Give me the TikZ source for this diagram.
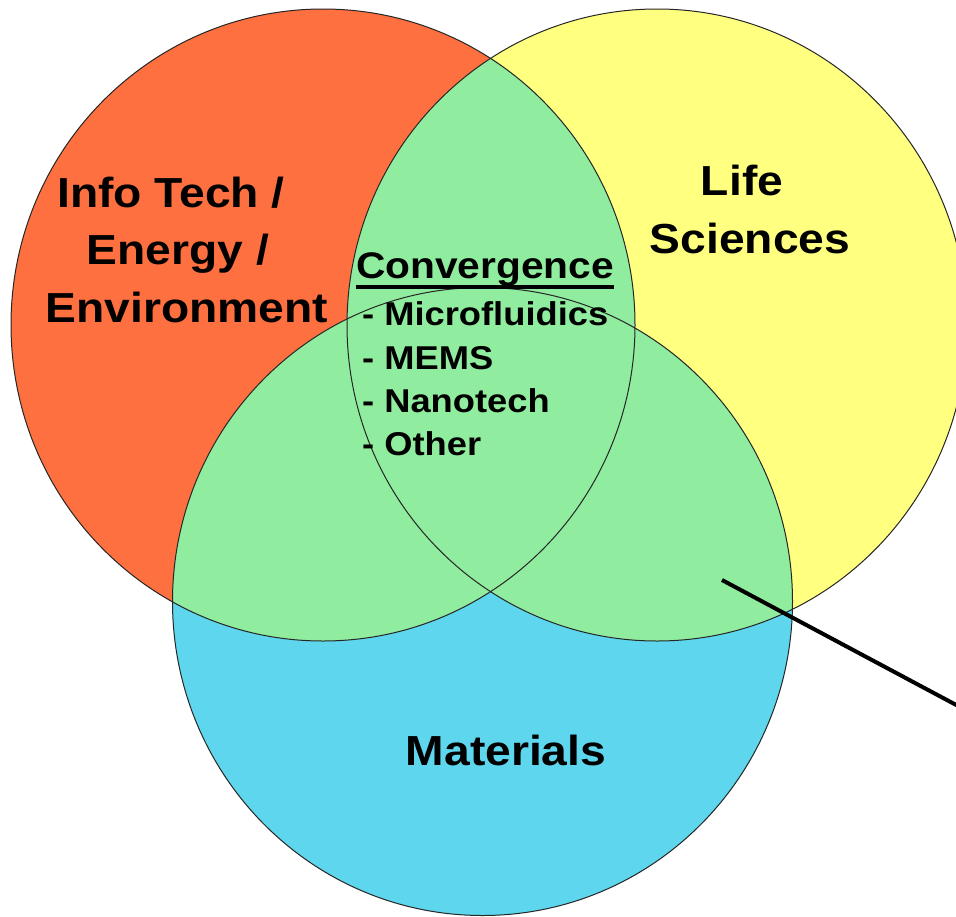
\documentclass[tikz,border=0pt]{standalone}
\usepackage{fontspec}
\setmainfont{Liberation Sans}[FakeStretch=1.1]
\definecolor{cRed}{RGB}{255,112,64}
\definecolor{cYel}{RGB}{255,255,128}
\definecolor{cGrn}{RGB}{144,236,158}
\definecolor{cBlu}{RGB}{94,214,238}
\tikzset{
  ring/.style={draw=black!85,line width=1pt},
  bigtxt/.style={font=\bfseries\fontsize{42}{50}\selectfont,anchor=base,inner sep=0pt},
  headtxt/.style={font=\bfseries\fontsize{37}{44}\selectfont,anchor=base,inner sep=0pt},
  itemtxt/.style={font=\bfseries\fontsize{33}{40}\selectfont,anchor=base west,inner sep=0pt},
  pointer/.style={line width=4pt,line cap=butt}
}
\begin{document}
\begin{tikzpicture}[x=1pt,y=-1pt]
\useasboundingbox (0,0) rectangle (956,916);
\clip (0,0) rectangle (956,916);
\coordinate (cR) at (323,325);
\coordinate (cY) at (657,325);
\coordinate (cB) at (482.5,601.5);
\def\shR{(cR) ellipse[x radius=312,y radius=316]}
\def\shY{(cY) ellipse[x radius=310,y radius=316]}
\def\shB{(cB) ellipse[x radius=310,y radius=314]}
% base fills
\fill[cRed] \shR;
\fill[cYel] \shY;
\fill[cBlu] \shB;
% overlaps
\begin{scope}\clip \shR; \fill[cGrn] \shY; \fill[cGrn] \shB;\end{scope}
\begin{scope}\clip \shY; \fill[cGrn] \shB;\end{scope}
% outlines
\draw[ring] \shR;
\draw[ring] \shY;
\draw[ring] \shB;
% labels
\node[bigtxt] (it1) at (171,207) {Info Tech /};
\node[bigtxt] (it2) at (178,264) {Energy /};
\node[bigtxt] (it3) at (187,322) {Environment};
\node[bigtxt] (ls1) at (742,195) {Life};
\node[bigtxt] (ls2) at (750,253) {Sciences};
\node[bigtxt] (mat) at (506,765) {Materials};
\node[headtxt] (conv) at (485,278) {Convergence};
\draw[line width=3.5pt] ([yshift=-9pt]conv.base west) -- ([yshift=-9pt]conv.base east);
\node[itemtxt] (i1) at (362,325) {- Microfluidics};
\node[itemtxt] (i2) at (362,369) {- MEMS};
\node[itemtxt] (i3) at (362,412) {- Nanotech};
\node[itemtxt] (i4) at (362,455) {- Other};
% pointer
\coordinate (pA) at (722,580);
\coordinate (pB) at (990,723);
\draw[pointer] (pA) -- (pB);
\end{tikzpicture}
\end{document}
